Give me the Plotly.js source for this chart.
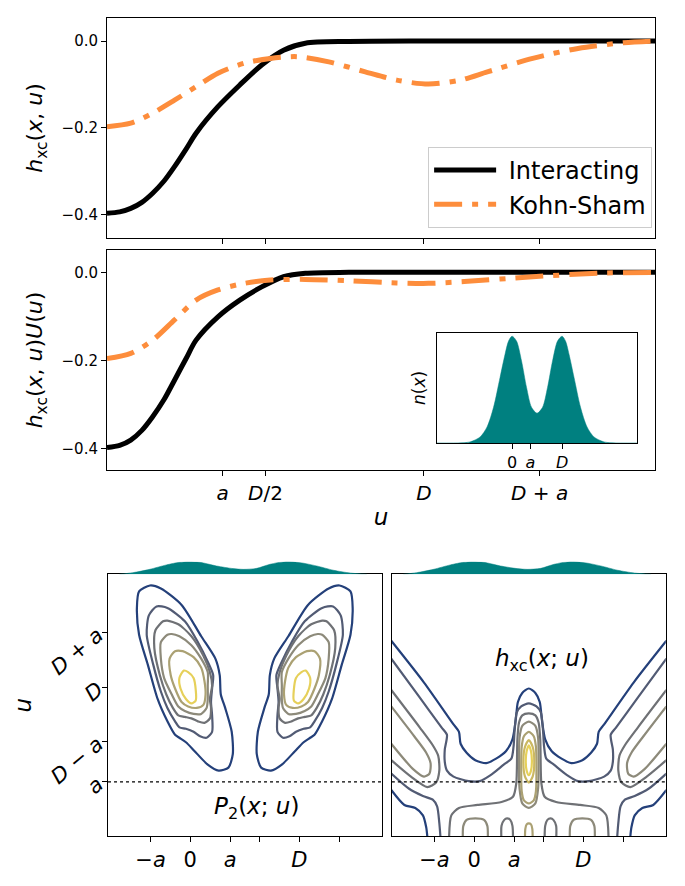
<!DOCTYPE html>
<html><head><meta charset="utf-8">
<script src="https://cdn.plot.ly/plotly-3.0.1.min.js"></script>
<style>html,body{margin:0;padding:0;background:#fff}</style>
</head><body><div id="chart" style="width:685px;height:886px"></div>
<script>
// ---------- constants (in units of D) ----------
const D = 1, a = 0.365;

// ---------- top panel: h_xc(x,u) ----------
const uInt = [0, 0.04, 0.075, 0.11, 0.144, 0.18, 0.213, 0.25, 0.281, 0.35, 0.419, 0.488, 0.557, 0.626, 0.763, 1.0, 1.3, 1.73];
const hxcInt = [-0.396, -0.393, -0.385, -0.371, -0.35, -0.322, -0.289, -0.248, -0.212, -0.151, -0.101, -0.055, -0.021, -0.005, -0.001, 0, 0, 0];
const uKS = [0, 0.075, 0.144, 0.213, 0.281, 0.35, 0.433, 0.515, 0.6, 0.7, 0.815, 0.914, 1.014, 1.114, 1.2, 1.343, 1.486, 1.63, 1.73];
const hxcKS = [-0.197, -0.189, -0.166, -0.136, -0.105, -0.074, -0.051, -0.04, -0.036, -0.048, -0.071, -0.09, -0.099, -0.09, -0.071, -0.04, -0.017, -0.004, 0];

// ---------- middle panel: h_xc(x,u) U(u) ----------
const hxcUInt = [-0.398, -0.393, -0.381, -0.359, -0.328, -0.289, -0.245, -0.195, -0.154, -0.101, -0.063, -0.033, -0.01, -0.002, 0, 0, 0, 0];
const uKS2 = [0, 0.075, 0.144, 0.213, 0.281, 0.35, 0.433, 0.515, 0.626, 0.763, 0.914, 1.014, 1.127, 1.343, 1.55, 1.73];
const hxcUKS = [-0.196, -0.184, -0.154, -0.108, -0.063, -0.04, -0.025, -0.0175, -0.016, -0.019, -0.024, -0.025, -0.021, -0.01, -0.002, 0];

// ---------- inset density n(x) ----------
const nX = [-1.5, -1.0, -0.84, -0.64, -0.5, -0.37, -0.24, -0.14, -0.07, 0, 0.09, 0.19, 0.29, 0.39, 0.5, 0.61, 0.71, 0.81, 0.91, 1.0, 1.07, 1.14, 1.24, 1.37, 1.5, 1.64, 1.84, 2.0, 2.5];
const nVal = [0, 0.002, 0.01, 0.056, 0.15, 0.334, 0.613, 0.83, 0.954, 1.0, 0.954, 0.768, 0.52, 0.334, 0.279, 0.334, 0.52, 0.768, 0.954, 1.0, 0.954, 0.83, 0.613, 0.334, 0.15, 0.056, 0.01, 0.002, 0];

// ---------- density strips above the contour panels ----------
const stripX = [-0.65, -0.527, -0.374, -0.22, -0.098, -0.02, 0.087, 0.24, 0.393, 0.485, 0.609, 0.731, 0.869, 1.007, 1.16, 1.314, 1.468, 1.62];
const stripVal = [0, 0.13, 0.39, 0.74, 0.95, 1.0, 0.95, 0.66, 0.45, 0.39, 0.47, 0.79, 1.0, 0.92, 0.66, 0.32, 0.1, 0];

// ---------- P2(x;u) contour lines (left lobe / right lobe) ----------
const p2Lvl1u = [1.68,1.64,1.53,1.35,1.15,0.92,0.77,0.68,0.66,0.63,0.57,0.48,0.44,0.46,0.55,0.70,0.86,0.95,1.08,1.19,1.34,1.55,1.66,1.68];
const p2Lvl1xL = [-0.37,-0.47,-0.49,-0.47,-0.39,-0.30,-0.21,-0.14,-0.10,-0.04,0.04,0.16,0.26,0.35,0.39,0.38,0.32,0.28,0.27,0.23,0.10,-0.08,-0.27,-0.37];
const p2Lvl1xR = [1.37,1.47,1.49,1.47,1.39,1.30,1.21,1.14,1.10,1.04,0.96,0.84,0.74,0.65,0.61,0.62,0.68,0.72,0.73,0.77,0.90,1.08,1.27,1.37];
const p2Lvl2u = [1.54,1.48,1.35,1.15,0.97,0.86,0.77,0.73,0.72,0.70,0.67,0.66,0.70,0.81,0.90,0.99,1.08,1.17,1.30,1.44,1.53,1.54];
const p2Lvl2xL = [-0.31,-0.38,-0.40,-0.34,-0.27,-0.21,-0.14,-0.10,-0.04,0.03,0.09,0.15,0.20,0.20,0.19,0.20,0.21,0.16,0.07,-0.05,-0.21,-0.31];
const p2Lvl2xR = [1.31,1.38,1.40,1.34,1.27,1.21,1.14,1.10,1.04,0.97,0.91,0.85,0.80,0.80,0.81,0.80,0.79,0.84,0.93,1.05,1.21,1.31];
const p2Lvl3u = [1.44,1.38,1.26,1.08,0.95,0.86,0.81,0.80,0.79,0.77,0.76,0.79,0.86,0.92,1.01,1.10,1.21,1.34,1.42,1.445,1.44];
const p2Lvl3xL = [-0.25,-0.32,-0.33,-0.28,-0.22,-0.16,-0.11,-0.05,0.01,0.07,0.13,0.18,0.19,0.18,0.20,0.18,0.12,0.01,-0.11,-0.21,-0.25];
const p2Lvl3xR = [1.25,1.32,1.33,1.28,1.22,1.16,1.11,1.05,0.99,0.93,0.87,0.82,0.81,0.82,0.80,0.82,0.88,0.99,1.11,1.21,1.25];
const p2Lvl4u = [1.35,1.30,1.19,1.06,0.95,0.87,0.84,0.82,0.82,0.86,0.92,1.01,1.10,1.19,1.28,1.34,1.355,1.35];
const p2Lvl4xL = [-0.21,-0.27,-0.27,-0.24,-0.17,-0.11,-0.05,0.03,0.10,0.15,0.16,0.16,0.16,0.10,0.01,-0.10,-0.17,-0.21];
const p2Lvl4xR = [1.21,1.27,1.27,1.24,1.17,1.11,1.05,0.97,0.90,0.85,0.84,0.84,0.84,0.90,0.99,1.10,1.17,1.21];
const p2Lvl5u = [1.24,1.19,1.08,0.99,0.90,0.87,0.86,0.88,0.95,1.04,1.13,1.20,1.24,1.24];
const p2Lvl5xL = [-0.14,-0.19,-0.18,-0.14,-0.08,-0.02,0.06,0.12,0.14,0.13,0.10,0.03,-0.07,-0.14];
const p2Lvl5xR = [1.14,1.19,1.18,1.14,1.08,1.02,0.94,0.88,0.86,0.87,0.90,0.97,1.07,1.14];
const p2Lvl6u = [1.11,1.06,0.99,0.92,0.89,0.91,0.98,1.06,1.10,1.11];
const p2Lvl6xL = [-0.06,-0.10,-0.09,-0.04,0.01,0.05,0.05,0.03,-0.02,-0.06];
const p2Lvl6xR = [1.06,1.10,1.09,1.04,0.99,0.95,0.95,0.97,1.02,1.06];

// ---------- h_xc(x;u) contour lines ----------
const hNavyUpX = [-0.76,-0.46,-0.19,-0.14,-0.125,-0.07,0.01,0.11,0.20,0.29,0.35,0.38,0.40,0.44,0.50,0.56,0.60,0.62,0.65,0.71,0.80,0.89,0.99,1.07,1.125,1.14,1.19,1.46,1.76];
const hNavyUpU = [1.31,1.03,0.75,0.70,0.62,0.56,0.51,0.49,0.52,0.57,0.65,0.78,0.90,0.96,0.99,0.96,0.90,0.78,0.65,0.57,0.52,0.49,0.51,0.56,0.62,0.70,0.75,1.03,1.31];
const hNavyLowU = [0.31,0.21,0.19,0.14,0.06,0];
const hNavyLowXL = [-0.76,-0.64,-0.54,-0.47,-0.44,-0.43];
const hNavyLowXR = [1.76,1.64,1.54,1.47,1.44,1.43];
const hSlateUpX = [-0.76,-0.50,-0.30,-0.25,-0.27,-0.27,-0.25,-0.19,-0.05,0.05,0.15,0.27,0.34,0.36,0.37,0.39,0.43,0.50,0.57,0.61,0.63,0.64,0.66,0.73,0.85,0.95,1.05,1.19,1.25,1.27,1.27,1.25,1.30,1.50,1.76];
const hSlateUpU = [1.19,0.93,0.73,0.68,0.58,0.50,0.44,0.40,0.37,0.37,0.41,0.48,0.52,0.60,0.71,0.83,0.87,0.89,0.87,0.83,0.71,0.60,0.52,0.48,0.41,0.37,0.37,0.40,0.44,0.50,0.58,0.68,0.73,0.93,1.19];
const hSlateLowU = [0.42,0.32,0.27,0.245,0.20,0.09,0];
const hSlateLowXL = [-0.76,-0.60,-0.47,-0.38,-0.34,-0.32,-0.31];
const hSlateLowXR = [1.76,1.60,1.47,1.38,1.34,1.32,1.31];
const hGrayBandU = [0.98,0.73,0.61,0.54,0.44,0.36,0.33,0.40,0.51];
const hGrayBandXL = [-0.76,-0.50,-0.38,-0.33,-0.32,-0.35,-0.43,-0.58,-0.76];
const hGrayBandXR = [1.76,1.50,1.38,1.33,1.32,1.35,1.43,1.58,1.76];
const hOliveBandU = [0.87,0.67,0.56,0.49,0.42,0.40,0.45,0.62];
const hOliveBandXL = [-0.76,-0.55,-0.44,-0.40,-0.41,-0.46,-0.56,-0.76];
const hOliveBandXR = [1.76,1.55,1.44,1.40,1.41,1.46,1.56,1.76];
const hGrayArchX = [-0.23,-0.21,-0.14,0.03,0.25,0.355,0.385,0.395,0.41,0.44,0.50,0.56,0.59,0.605,0.615,0.645,0.75,0.97,1.14,1.21,1.23];
const hGrayArchU = [0,0.14,0.19,0.21,0.23,0.265,0.355,0.645,0.76,0.81,0.823,0.81,0.76,0.645,0.355,0.265,0.23,0.21,0.19,0.14,0];
const hPeak4X = [0.50,0.56,0.585,0.59,0.585,0.56,0.50,0.44,0.415,0.41,0.415,0.44,0.50];
const hPeak4U = [0.768,0.74,0.66,0.50,0.32,0.22,0.19,0.22,0.32,0.50,0.66,0.74,0.768];
const hPeak5X = [0.50,0.545,0.565,0.57,0.565,0.545,0.50,0.455,0.435,0.43,0.435,0.455,0.50];
const hPeak5U = [0.70,0.67,0.60,0.45,0.30,0.24,0.22,0.24,0.30,0.45,0.60,0.67,0.70];
const hPeak6X = [0.50,0.535,0.55,0.535,0.50,0.465,0.45,0.465,0.50];
const hPeak6U = [0.645,0.60,0.50,0.40,0.36,0.40,0.50,0.60,0.645];
const hPeak7X = [0.50,0.52,0.528,0.52,0.50,0.48,0.472,0.48,0.50];
const hPeak7U = [0.61,0.57,0.51,0.44,0.41,0.44,0.51,0.57,0.61];
const hArchU = [0,0.07,0.11,0.12,0.11,0.07,0];
const hArchOuterXL = [-0.105,-0.10,-0.07,0.01,0.09,0.12,0.125];
const hArchOuterXR = [1.105,1.10,1.07,0.99,0.91,0.88,0.875];
const hArchInnerXL = [0.248,0.25,0.275,0.30,0.33,0.35,0.355];
const hArchInnerXR = [0.752,0.75,0.725,0.70,0.67,0.65,0.645];
const hArchMidX = [0.465,0.468,0.48,0.50,0.52,0.532,0.535];
const hArchMidU = [0,0.05,0.08,0.087,0.08,0.05,0];

// ---------- ticks ----------
const uTickVals = [a, D / 2, D, D + a];
const uTickText = ['<i>a</i>', '<i>D</i>/2', '<i>D</i>', '<i>D</i> + <i>a</i>'];
const hTickVals = [0, -0.2, -0.4];
const hTickText = ['0.0', '\u22120.2', '\u22120.4'];
const inTickVals = [0, a, D];
const inTickText = ['0', '<i>a</i>', '<i>D</i>'];
const cxTickVals = [-a, 0, a, D];
const cxTickText = ['\u2212<i>a</i>', '0', '<i>a</i>', '<i>D</i>'];
const cxMinorVals = [D - a, D + a];
const cuTickVals = [a, D - a, D, D + a];
const cuTickText = ['<i>a</i>', '<i>D</i> \u2212 <i>a</i>', '<i>D</i>', '<i>D</i> + <i>a</i>'];

// ---------- styling ----------
const FONT = 'DejaVu Sans, sans-serif';
const lvlColors = ['#24407a', '#525b74', '#6f7175', '#8d8a7a', '#aba173', '#cbb862', '#e6d05a'];
const teal = '#008080', black = '#000000', orange = '#fd8d3c';
const KSDASH = '28px,10px,6px,10px';

const traces = [];
function ctr(xs, us, col, xa, ya) {
  traces.push({type: 'scatter', mode: 'lines', x: xs, y: us, xaxis: xa, yaxis: ya,
    line: {color: col, width: 2.2, shape: 'spline', smoothing: 0.7},
    showlegend: false, hoverinfo: 'skip'});
}

// top
traces.push({type: 'scatter', mode: 'lines', x: uInt, y: hxcInt, name: '\u00a0Interacting', xaxis: 'x', yaxis: 'y',
  line: {color: black, width: 5, shape: 'spline', smoothing: 0.8}});
traces.push({type: 'scatter', mode: 'lines', x: uKS, y: hxcKS, name: '\u00a0Kohn-Sham', xaxis: 'x', yaxis: 'y',
  line: {color: orange, width: 5, shape: 'spline', smoothing: 0.8, dash: KSDASH}});
// middle
traces.push({type: 'scatter', mode: 'lines', x: uInt, y: hxcUInt, xaxis: 'x2', yaxis: 'y2', showlegend: false,
  line: {color: black, width: 5, shape: 'spline', smoothing: 0.8}});
traces.push({type: 'scatter', mode: 'lines', x: uKS2, y: hxcUKS, xaxis: 'x2', yaxis: 'y2', showlegend: false,
  line: {color: orange, width: 5, shape: 'spline', smoothing: 0.8, dash: KSDASH}});
// inset
traces.push({type: 'scatter', mode: 'lines', x: nX, y: nVal, xaxis: 'x3', yaxis: 'y3', showlegend: false,
  fill: 'tozeroy', fillcolor: teal, line: {color: teal, width: 0.5, shape: 'spline', smoothing: 0.8}});
// strips
traces.push({type: 'scatter', mode: 'lines', x: stripX, y: stripVal, xaxis: 'x6', yaxis: 'y6', showlegend: false,
  fill: 'tozeroy', fillcolor: teal, line: {color: teal, width: 0.5, shape: 'spline', smoothing: 0.8}});
traces.push({type: 'scatter', mode: 'lines', x: stripX, y: stripVal, xaxis: 'x7', yaxis: 'y7', showlegend: false,
  fill: 'tozeroy', fillcolor: teal, line: {color: teal, width: 0.5, shape: 'spline', smoothing: 0.8}});

// P2 contours
const p2 = [[p2Lvl1u,p2Lvl1xL,p2Lvl1xR,0],[p2Lvl2u,p2Lvl2xL,p2Lvl2xR,1],[p2Lvl3u,p2Lvl3xL,p2Lvl3xR,2],
            [p2Lvl4u,p2Lvl4xL,p2Lvl4xR,3],[p2Lvl5u,p2Lvl5xL,p2Lvl5xR,4],[p2Lvl6u,p2Lvl6xL,p2Lvl6xR,6]];
p2.forEach(([u, xl, xr, c]) => { ctr(xl, u, lvlColors[c], 'x4', 'y4'); ctr(xr, u, lvlColors[c], 'x4', 'y4'); });

// hxc contours
ctr(hNavyUpX, hNavyUpU, lvlColors[0], 'x5', 'y5');
ctr(hNavyLowXL, hNavyLowU, lvlColors[0], 'x5', 'y5');
ctr(hNavyLowXR, hNavyLowU, lvlColors[0], 'x5', 'y5');
ctr(hSlateUpX, hSlateUpU, lvlColors[1], 'x5', 'y5');
ctr(hSlateLowXL, hSlateLowU, lvlColors[1], 'x5', 'y5');
ctr(hSlateLowXR, hSlateLowU, lvlColors[1], 'x5', 'y5');
ctr(hGrayBandXL, hGrayBandU, lvlColors[2], 'x5', 'y5');
ctr(hGrayBandXR, hGrayBandU, lvlColors[2], 'x5', 'y5');
ctr(hOliveBandXL, hOliveBandU, lvlColors[3], 'x5', 'y5');
ctr(hOliveBandXR, hOliveBandU, lvlColors[3], 'x5', 'y5');
ctr(hGrayArchX, hGrayArchU, lvlColors[2], 'x5', 'y5');
ctr(hPeak4X, hPeak4U, lvlColors[3], 'x5', 'y5');
ctr(hPeak5X, hPeak5U, lvlColors[4], 'x5', 'y5');
ctr(hPeak6X, hPeak6U, lvlColors[5], 'x5', 'y5');
ctr(hPeak7X, hPeak7U, lvlColors[6], 'x5', 'y5');
ctr(hArchOuterXL, hArchU, lvlColors[3], 'x5', 'y5');
ctr(hArchOuterXR, hArchU, lvlColors[3], 'x5', 'y5');
ctr(hArchInnerXL, hArchU, lvlColors[2], 'x5', 'y5');
ctr(hArchInnerXR, hArchU, lvlColors[2], 'x5', 'y5');
ctr(hArchMidX, hArchMidU, lvlColors[4], 'x5', 'y5');

const box = {showline: true, mirror: true, linecolor: '#000', linewidth: 1, showgrid: false, zeroline: false,
  ticks: 'outside', ticklen: 5, tickwidth: 1, tickcolor: '#000'};
const minorOf = vals => ({tickmode: 'array', tickvals: vals, ticks: 'outside', ticklen: 5, tickwidth: 1, tickcolor: '#000', showgrid: false});
const hidden = {visible: false, showgrid: false, zeroline: false, fixedrange: true};

const layout = {
  width: 685, height: 886, margin: {l: 0, r: 0, t: 0, b: 0},
  paper_bgcolor: '#fff', plot_bgcolor: '#fff',
  font: {family: FONT, color: '#000', size: 15},
  showlegend: true,
  legend: {x: 0.952, y: 0.7427, xanchor: 'right', yanchor: 'bottom', bgcolor: 'rgba(255,255,255,0.9)',
    bordercolor: '#cccccc', borderwidth: 1, font: {size: 24, family: FONT}, itemwidth: 62},
  xaxis: Object.assign({}, box, {domain: [0.1562, 0.9562], anchor: 'y', range: [0, 1.729],
    tickmode: 'array', tickvals: [], showticklabels: false, minor: minorOf(uTickVals)}),
  yaxis: Object.assign({}, box, {domain: [0.7314, 0.9797], anchor: 'x', range: [-0.453, 0.053],
    tickvals: hTickVals, ticktext: hTickText, tickfont: {size: 15},
    title: {text: '<i>h</i><sub>xc</sub>(<i>x</i>, <i>u</i>)', font: {size: 22}, standoff: 12}}),
  xaxis2: Object.assign({}, box, {domain: [0.1562, 0.9562], anchor: 'y2', range: [0, 1.729],
    tickvals: uTickVals, ticktext: uTickText, tickfont: {size: 20},
    title: {text: '<i>u</i>', font: {size: 23}, standoff: 4}}),
  yaxis2: Object.assign({}, box, {domain: [0.4695, 0.7178], anchor: 'x2', range: [-0.449, 0.0507],
    tickvals: hTickVals, ticktext: hTickText, tickfont: {size: 15},
    title: {text: '<i>h</i><sub>xc</sub>(<i>x</i>, <i>u</i>)<i>U</i>(<i>u</i>)', font: {size: 22}, standoff: 12}}),
  xaxis3: Object.assign({}, box, {domain: [0.638, 0.930], anchor: 'y3', range: [-1.5, 2.5],
    tickvals: inTickVals, ticktext: inTickText, tickfont: {size: 16}}),
  yaxis3: Object.assign({}, box, {domain: [0.5, 0.6242], anchor: 'x3', range: [0, 1.03],
    ticks: '', showticklabels: false, tickmode: 'array', tickvals: [],
    title: {text: '<i>n</i>(<i>x</i>)', font: {size: 17}, standoff: 6}}),
  xaxis4: Object.assign({}, box, {domain: [0.1577, 0.557], anchor: 'y4', range: [-0.755, 1.755],
    tickvals: cxTickVals, ticktext: cxTickText, tickfont: {size: 21}, minor: minorOf(cxMinorVals)}),
  yaxis4: Object.assign({}, box, {domain: [0.0561, 0.3518], anchor: 'x4', range: [0, 1.755],
    tickvals: cuTickVals, ticktext: cuTickText, tickfont: {size: 21}, tickangle: -40,
    title: {text: '<i>u</i>', font: {size: 23}, standoff: 8}}),
  xaxis5: Object.assign({}, box, {domain: [0.572, 0.972], anchor: 'y5', range: [-0.755, 1.755],
    tickvals: cxTickVals, ticktext: cxTickText, tickfont: {size: 21}, minor: minorOf(cxMinorVals)}),
  yaxis5: Object.assign({}, box, {domain: [0.0561, 0.3518], anchor: 'x5', range: [0, 1.755],
    ticks: '', showticklabels: false, tickmode: 'array', tickvals: []}),
  xaxis6: Object.assign({}, hidden, {domain: [0.1577, 0.557], anchor: 'y6', range: [-0.755, 1.755]}),
  yaxis6: Object.assign({}, hidden, {domain: [0.3518, 0.3661], anchor: 'x6', range: [0, 1.0]}),
  xaxis7: Object.assign({}, hidden, {domain: [0.572, 0.972], anchor: 'y7', range: [-0.755, 1.755]}),
  yaxis7: Object.assign({}, hidden, {domain: [0.3518, 0.3661], anchor: 'x7', range: [0, 1.0]}),
  shapes: [
    {type: 'line', xref: 'x4 domain', x0: 0, x1: 1, yref: 'y4', y0: a, y1: a, line: {color: '#000', width: 1.2, dash: 'dot'}},
    {type: 'line', xref: 'x5 domain', x0: 0, x1: 1, yref: 'y5', y0: a, y1: a, line: {color: '#000', width: 1.2, dash: 'dot'}}
  ],
  annotations: [
    {xref: 'x4', yref: 'y4', x: 0.61, y: 0.19, text: '<i>P</i><sub>2</sub>(<i>x</i>; <i>u</i>)', showarrow: false, font: {size: 23}},
    {xref: 'x5', yref: 'y5', x: 0.625, y: 1.18, text: '<i>h</i><sub>xc</sub>(<i>x</i>; <i>u</i>)', showarrow: false, font: {size: 23}}
  ]
};

Plotly.newPlot('chart', traces, layout, {displayModeBar: false, staticPlot: true}).then(gd => {
  // drop empty placeholder text nodes that Plotly leaves for untitled axes
  gd.querySelectorAll('text').forEach(t => { if (!t.textContent.replace(/\s/g, '').length) t.remove(); });
});
</script></body></html>
